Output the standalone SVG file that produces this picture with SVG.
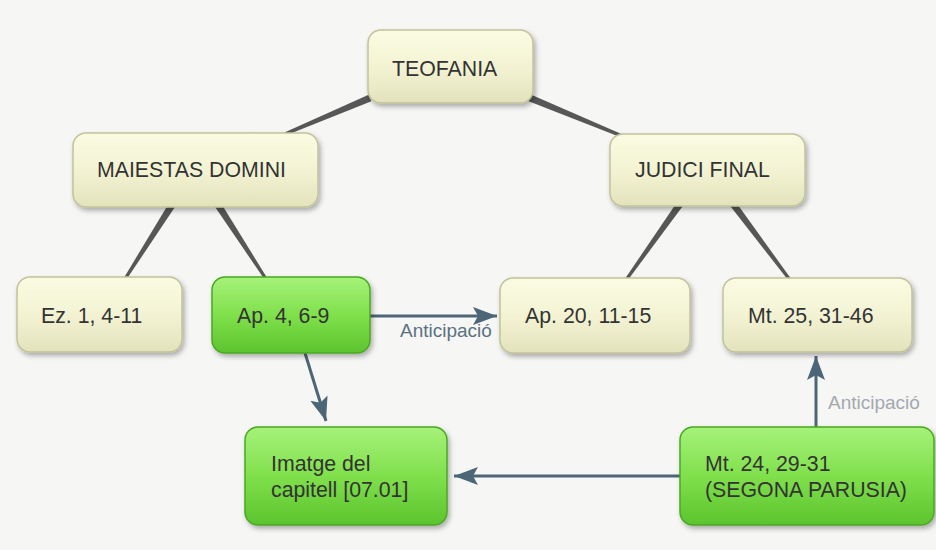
<svg xmlns="http://www.w3.org/2000/svg" width="936" height="550" viewBox="0 0 936 550">
<defs>
<linearGradient id="gy" x1="0" y1="0" x2="0" y2="1">
<stop offset="0" stop-color="#fbfbe3"/>
<stop offset="0.55" stop-color="#f2f2d2"/>
<stop offset="1" stop-color="#e2e2bb"/>
</linearGradient>
<linearGradient id="gg" x1="0" y1="0" x2="0" y2="1">
<stop offset="0" stop-color="#a6f27a"/>
<stop offset="0.5" stop-color="#80e04c"/>
<stop offset="1" stop-color="#5cc42e"/>
</linearGradient>
<filter id="sh" x="-10%" y="-10%" width="125%" height="135%">
<feDropShadow dx="2" dy="3" stdDeviation="2.5" flood-color="#000" flood-opacity="0.3"/>
</filter>
<marker id="ah" markerUnits="userSpaceOnUse" markerWidth="26" markerHeight="22" refX="24" refY="11" orient="auto">
<path d="M0,2 L24,11 L0,20 L5,11 Z" fill="#4d6677"/>
</marker>
<style>
.ny{fill:url(#gy);stroke:#c2c29a;stroke-width:1.5;filter:url(#sh)}
.ng{fill:url(#gg);stroke:#4aa824;stroke-width:1.5;filter:url(#sh)}
.t{font-family:"Liberation Sans",Arial,sans-serif;font-size:21.3px;fill:#333}
.lk{fill:#575757}
.ar{stroke:#4d6677;stroke-width:3;fill:none;marker-end:url(#ah)}
.lb{font-family:"Liberation Sans",Arial,sans-serif;font-size:19px}
</style>
</defs>
<rect width="936" height="550" fill="#f6f6f5"/>
<g id="connectors">
<polygon class="lk" points="368.6,94.8 371.4,101.2 285.6,135.4 284.4,132.6"/>
<polygon class="lk" points="528.7,101.2 531.3,94.8 622.6,134.6 621.4,137.4"/>
<polygon class="lk" points="174.95,206.9 169.05,203.1 123.7,278.2 126.3,279.8"/>
<polygon class="lk" points="215.1,206.9 220.9,203.1 267.3,278.2 264.7,279.8"/>
<polygon class="lk" points="682.85,206 677.15,202 624.8,279.1 627.2,280.9"/>
<polygon class="lk" points="730.2,206.1 735.8,201.9 791.2,279.1 788.8,280.9"/>
<line class="ar" x1="370" y1="316" x2="497" y2="316"/>
<line class="ar" x1="305" y1="353" x2="326" y2="421"/>
<line class="ar" x1="680" y1="476" x2="454" y2="476"/>
<line class="ar" x1="816" y1="427" x2="816" y2="356"/>
<text class="lb" x="400" y="337" fill="#5a7282">Anticipació</text>
<text class="lb" x="828" y="409" fill="#a2a9ae">Anticipació</text>
</g>
<g id="teofania">
<rect class="ny" x="368" y="30" width="165" height="73" rx="13"/>
<text class="t" x="392" y="76">TEOFANIA</text>
</g>
<g id="maiestas">
<rect class="ny" x="73" y="133" width="245" height="74" rx="13"/>
<text class="t" x="97" y="177">MAIESTAS DOMINI</text>
</g>
<g id="judici">
<rect class="ny" x="610" y="134" width="195" height="72" rx="13"/>
<text class="t" x="635" y="177">JUDICI FINAL</text>
</g>
<g id="ez">
<rect class="ny" x="17" y="277" width="165" height="75" rx="13"/>
<text class="t" x="41" y="323">Ez. 1, 4-11</text>
</g>
<g id="ap4">
<rect class="ng" x="212" y="277" width="158" height="76" rx="13"/>
<text class="t" x="237" y="323">Ap. 4, 6-9</text>
</g>
<g id="ap20">
<rect class="ny" x="500" y="278" width="190" height="75" rx="13"/>
<text class="t" x="525" y="323">Ap. 20, 11-15</text>
</g>
<g id="mt25">
<rect class="ny" x="723" y="278" width="189" height="74" rx="13"/>
<text class="t" x="748" y="323">Mt. 25, 31-46</text>
</g>
<g id="imatge">
<rect class="ng" x="245" y="427" width="202" height="98" rx="13"/>
<text class="t" x="271" y="471">Imatge del</text>
<text class="t" x="271" y="497">capitell [07.01]</text>
</g>
<g id="mt24">
<rect class="ng" x="680" y="427" width="254" height="98" rx="13"/>
<text class="t" x="705" y="471">Mt. 24, 29-31</text>
<text class="t" x="705" y="497">(SEGONA PARUSIA)</text>
</g>
</svg>
